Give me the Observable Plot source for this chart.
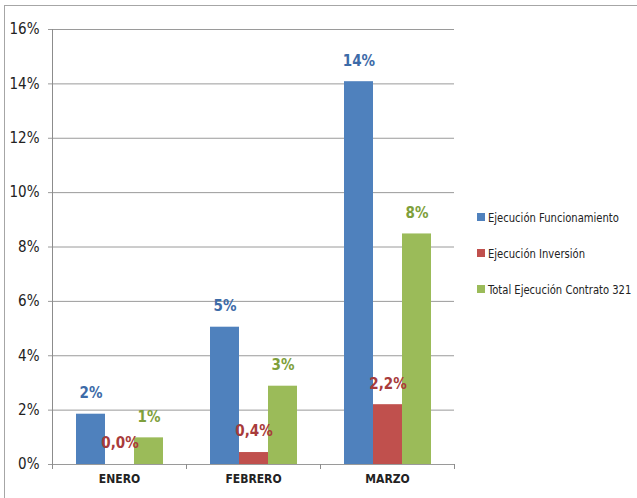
<!DOCTYPE html>
<html><head><meta charset="utf-8">
<script src="https://cdn.jsdelivr.net/npm/d3@7"></script>
<script src="https://cdn.jsdelivr.net/npm/@observablehq/plot@0.6"></script>
<style>
body{margin:0;background:#fff;font-family:"Liberation Sans Narrow","DejaVu Sans Condensed",sans-serif;}
#wrap{position:relative;width:637px;height:498px;overflow:hidden;background:#fff;}
#border{position:absolute;left:4px;top:5px;width:700px;height:600px;border-left:1.5px solid #a6a6a6;border-top:1.5px solid #a6a6a6;}
#chart{position:absolute;left:0;top:0;}
#legend{position:absolute;left:477px;top:0;font-size:12.5px;color:#222;}
.item{position:absolute;left:0;white-space:nowrap;display:flex;align-items:center;height:16px;}
.sw{width:8px;height:8px;margin-right:3px;flex:none;}
.lt{display:inline-block;transform:scaleX(0.89);transform-origin:0 50%;}
</style></head><body>
<div id="wrap"><div id="border"></div><div id="chart"></div><div id="legend"></div></div>
<script>
const months = ["ENERO", "FEBRERO", "MARZO"];
const series = ["Ejecución Funcionamiento", "Ejecución Inversión", "Total Ejecución Contrato 321"];
const funcionamiento = [0.0185, 0.0505, 0.1408];
const inversion = [0.0, 0.0044, 0.022];
const total = [0.0098, 0.0288, 0.0848];
const yTicks = [0, 0.02, 0.04, 0.06, 0.08, 0.10, 0.12, 0.14, 0.16];
const colors = ["#4F81BD", "#C0504D", "#9BBB59"];
const labelColors = ["#3D6BA8", "#A83B3B", "#7E9F3B"];

const es = d3.formatLocale({decimal: ",", thousands: ".", grouping: [3], currency: ["", "€"]});
const fmtInt = es.format(".0%");
const fmtDec = es.format(".1%");
const formats = [fmtInt, fmtDec, fmtInt];
const valuesBySeries = [funcionamiento, inversion, total];

const data = [];
months.forEach((m, i) => {
  series.forEach((s, j) => {
    const v = valuesBySeries[j][i];
    data.push({month: m, series: s, value: v, label: formats[j](v)});
  });
});

const font = '"Liberation Sans Narrow","DejaVu Sans Condensed",sans-serif';

const plot = Plot.plot({
  width: 470,
  height: 498,
  marginLeft: 51,
  marginRight: 15,
  marginTop: 29,
  marginBottom: 34,
  style: {fontFamily: font, color: "#222", background: "transparent", overflow: "visible"},
  fx: {domain: months, padding: 0, label: null},
  x: {domain: series, paddingInner: 0, paddingOuter: 0.743, axis: null},
  y: {domain: [0, 0.16]},
  color: {domain: series, range: colors},
  marks: [
    Plot.gridY(yTicks, {stroke: "#9a9a9a", strokeOpacity: 1, strokeWidth: 1}),
    Plot.axisY(yTicks, {tickFormat: d => Math.round(d * 100) + "%", tickSize: 4, tickPadding: 9, stroke: "#9a9a9a", fontSize: 15, label: null}),
    Plot.axisFx({anchor: "bottom", tickSize: 0, tickPadding: 10, fontWeight: "bold", fontSize: 12, label: null}),
    Plot.barY(data, {fx: "month", x: "series", y: "value", fill: "series"}),
    ...series.map((s, j) => Plot.text(data.filter(d => d.series === s), {
      fx: "month", x: "series", y: "value", text: "label",
      fill: labelColors[j], dy: -21, fontWeight: "bold", fontSize: 15
    }))
  ]
});

document.getElementById("chart").appendChild(plot);

// axis line and category boundary ticks, positioned via Plot's scales
const svg = d3.select(plot);
const ys = plot.scale("y");
const fxs = plot.scale("fx");
const y0 = ys.apply(0), yTop = ys.apply(0.16);
const xLeft = fxs.apply(months[0]);
const g = svg.append("g").attr("stroke", "#8c8c8c").attr("stroke-width", 1);
g.append("line").attr("x1", xLeft + 0.5).attr("x2", xLeft + 0.5).attr("y1", yTop).attr("y2", y0);
const bounds = months.map(m => fxs.apply(m)).concat([fxs.apply(months[months.length - 1]) + fxs.bandwidth]);
bounds.forEach(b => {
  g.append("line").attr("x1", b + 0.5).attr("x2", b + 0.5).attr("y1", y0).attr("y2", y0 + 5);
});

// legend
const legend = d3.select("#legend");
const legendY = [217, 253, 289];
series.forEach((s, j) => {
  const it = legend.append("div").attr("class", "item").style("top", (legendY[j] - 8) + "px");
  it.append("div").attr("class", "sw").style("background", colors[j]);
  it.append("span").attr("class", "lt").text(s);
});
</script>
</body></html>
